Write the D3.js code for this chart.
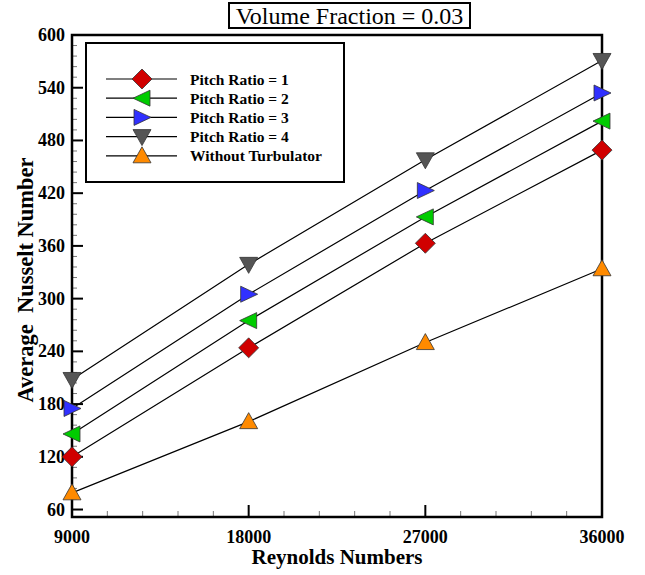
<!DOCTYPE html>
<html>
<head>
<meta charset="utf-8">
<script src="https://cdn.jsdelivr.net/npm/d3@7"></script>
<style>
  body { margin: 0; background: #fff; }
</style>
</head>
<body>
<svg id="canvas" width="645" height="575" font-family="'Liberation Serif', 'DejaVu Serif', serif"></svg>
<script>
// Data
const reynolds = [9000, 18000, 27000, 36000];
const pitch1 = [120, 244, 363, 469];
const pitch2 = [146, 275, 393, 502];
const pitch3 = [175, 305, 423, 534];
const pitch4 = [208, 339, 458, 571];
const withoutTurb = [79, 160, 250, 334];
const seriesNames = ["Pitch Ratio = 1", "Pitch Ratio = 2", "Pitch Ratio = 3", "Pitch Ratio = 4", "Without Turbulator"];
const xTicks = [9000, 18000, 27000, 36000];
const yTicks = [60, 120, 180, 240, 300, 360, 420, 480, 540, 600];

const series = [
  { name: seriesNames[0], values: pitch1, color: "#d00000", shape: "diamond" },
  { name: seriesNames[1], values: pitch2, color: "#00cc00", shape: "left" },
  { name: seriesNames[2], values: pitch3, color: "#3030ff", shape: "right" },
  { name: seriesNames[3], values: pitch4, color: "#555555", shape: "down" },
  { name: seriesNames[4], values: withoutTurb, color: "#ff8a00", shape: "up" },
];

const svg = d3.select("#canvas");
const serif = "Liberation Serif";
const [ml, mr, mt, mb] = [72, 602, 35, 517];

const x = d3.scaleLinear().domain([9000, 36000]).range([ml, mr]);
const y = d3.scaleLinear().domain([51.5, 600]).range([mb, mt]);

// Marker paths centred on 0,0
const markerPath = (shape) => {
  const s = 8;
  switch (shape) {
    case "diamond": return `M0,-10L10,0L0,10L-10,0Z`;
    case "left": return `M${-s - 1},0L${s},${-s}L${s},${s}Z`;
    case "right": return `M${s + 1},0L${-s},${-s}L${-s},${s}Z`;
    case "down": return `M${-s - 1},${-s + 1}L${s + 1},${-s + 1}L0,${s + 1}Z`;
    case "up": return `M${-s - 1},${s - 1}L${s + 1},${s - 1}L0,${-s - 1}Z`;
  }
};

// Title box
const title = svg.append("g");
title.append("rect")
  .attr("x", 229).attr("y", 3).attr("width", 241).attr("height", 25)
  .attr("fill", "#fff").attr("stroke", "#000").attr("stroke-width", 2);
title.append("text")
  .attr("x", 349.5).attr("y", 24).attr("text-anchor", "middle")
  .attr("font-family", serif).attr("font-size", 24).text("Volume Fraction = 0.03");

// Minor and major ticks on left axis (inward)
const yMinor = d3.range(60, 600, 12).filter((v) => !yTicks.includes(v));
svg.append("g").selectAll("line").data(yMinor).join("line")
  .attr("x1", ml).attr("x2", ml + 5)
  .attr("y1", (d) => y(d)).attr("y2", (d) => y(d))
  .attr("stroke", "#777").attr("stroke-width", 1);
svg.append("g").selectAll("line").data(yTicks).join("line")
  .attr("x1", ml).attr("x2", ml + 11)
  .attr("y1", (d) => y(d)).attr("y2", (d) => y(d))
  .attr("stroke", "#000").attr("stroke-width", 2);

// Bottom axis ticks (inward)
const xMinor = d3.range(9000, 36000, 1800).filter((v) => !xTicks.includes(v));
svg.append("g").selectAll("line").data(xMinor).join("line")
  .attr("x1", (d) => x(d)).attr("x2", (d) => x(d))
  .attr("y1", mb).attr("y2", mb - 6)
  .attr("stroke", "#777").attr("stroke-width", 1);
svg.append("g").selectAll("line").data(xTicks).join("line")
  .attr("x1", (d) => x(d)).attr("x2", (d) => x(d))
  .attr("y1", mb).attr("y2", mb - 12)
  .attr("stroke", "#000").attr("stroke-width", 2);

// Tick labels
svg.append("g").selectAll("text").data(yTicks).join("text")
  .attr("x", 65).attr("y", (d) => y(d) + 6)
  .attr("text-anchor", "end").attr("font-family", serif)
  .attr("font-weight", "bold").attr("font-size", 18)
  .text((d) => d);
svg.append("g").selectAll("text").data(xTicks).join("text")
  .attr("x", (d) => x(d)).attr("y", 543)
  .attr("text-anchor", "middle").attr("font-family", serif)
  .attr("font-weight", "bold").attr("font-size", 18)
  .text((d) => d);

// Axis titles
svg.append("text")
  .attr("x", 337).attr("y", 564).attr("text-anchor", "middle")
  .attr("font-family", serif).attr("font-weight", "bold").attr("font-size", 21)
  .text("Reynolds Numbers");
svg.append("text")
  .attr("transform", "translate(33, 280) rotate(-90)")
  .attr("text-anchor", "middle").attr("font-family", serif)
  .attr("font-weight", "bold").attr("font-size", 22.5)
  .attr("xml:space", "preserve")
  .text("Average  Nusselt Number");

// Lines
const line = d3.line().x((d, i) => x(reynolds[i])).y((d) => y(d));
svg.append("g").selectAll("path").data(series).join("path")
  .attr("d", (s) => line(s.values))
  .attr("fill", "none").attr("stroke", "#000").attr("stroke-width", 1.2);

// Frame
svg.append("rect")
  .attr("x", ml).attr("y", mt).attr("width", mr - ml).attr("height", mb - mt)
  .attr("fill", "none").attr("stroke", "#000").attr("stroke-width", 2.5);

// Markers
series.forEach((s) => {
  svg.append("g").selectAll("path").data(s.values).join("path")
    .attr("transform", (d, i) => `translate(${x(reynolds[i])}, ${y(d)})`)
    .attr("d", markerPath(s.shape))
    .attr("fill", s.color).attr("stroke", "#333").attr("stroke-width", 0.8);
});

// Legend
const legend = svg.append("g");
legend.append("rect")
  .attr("x", 86).attr("y", 43).attr("width", 258).attr("height", 139)
  .attr("fill", "#fff").attr("stroke", "#000").attr("stroke-width", 2);
const item = legend.selectAll("g.item").data(series).join("g")
  .attr("class", "item")
  .attr("transform", (d, i) => `translate(0, ${79 + i * 19.2})`);
item.append("line")
  .attr("x1", 106).attr("x2", 177).attr("y1", 0).attr("y2", 0)
  .attr("stroke", "#000").attr("stroke-width", 1.2);
item.append("path")
  .attr("transform", "translate(142, 0)")
  .attr("d", (d) => markerPath(d.shape))
  .attr("fill", (d) => d.color).attr("stroke", "#333").attr("stroke-width", 0.8);
item.append("text")
  .attr("x", 190).attr("y", 5.5)
  .attr("font-family", serif).attr("font-weight", "bold").attr("font-size", 15.5)
  .text((d) => d.name);
</script>
</body>
</html>
